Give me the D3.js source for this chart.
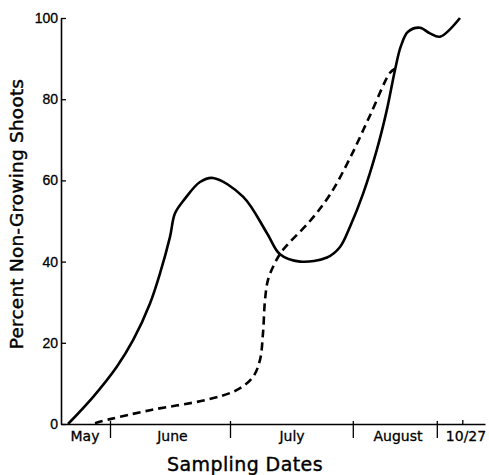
<!DOCTYPE html>
<html>
<head>
<meta charset="utf-8">
<script src="https://cdn.jsdelivr.net/npm/d3@7"></script>
<style>
  body { margin: 0; background: #fff; }
  svg { display: block; font-family: "DejaVu Sans", sans-serif; }
</style>
</head>
<body>
<svg width="489" height="475"></svg>
<script>
// x is days counted from June 1 (as laid out along the printed axis)
const solidDays = [-10.5, -4.2, 1.7, 5.8, 10, 12.5, 15, 16.25, 18.75, 22.5, 25.75, 33.25, 39.25, 42.5, 47.5, 54.25, 57.5, 60, 63.3, 66.7, 69.2, 71.25, 72.7, 74.5, 77.5, 80, 82.5, 87.5]
const solidPct  = [0, 6.7, 14.1, 20.7, 29.7, 37.1, 46.1, 51.9, 55.5, 59.6, 60.6, 56, 47, 41.8, 40, 41, 43.6, 48.6, 56.8, 67.5, 77.3, 87.2, 93, 96.6, 97.6, 96.2, 95.4, 100]

const dashedDays = [-3.75, 0, 10, 24.25, 31.75, 35.75, 37.5, 38.25, 38.75, 39.5, 41.25, 43.25, 50, 55, 60, 65, 70, 71.25]
const dashedPct  = [0.2, 1.2, 3.4, 6, 8.4, 11.6, 15.8, 22.4, 30.5, 35.5, 39.7, 42.9, 50, 56.5, 65.5, 76, 86.5, 87.5]

const monthLabels = ["May", "June", "July", "August", "10/27"]
const monthLabelDays = [-6.25, 15.6, 45.5, 72, 89]
const boundaryDays = [0, 30, 60.7, 81.7]
const lastTickDay = 88.2
const yTicks = [0, 20, 40, 60, 80, 100]

const svg = d3.select("svg")

const x = d3.scaleLinear().domain([-12.25, 93.75]).range([61, 485])
const y = d3.scaleLinear().domain([0, 100]).range([424, 18])

// y axis, ticks pointing into the plot
const yAxis = d3.axisLeft(y)
  .tickValues(yTicks)
  .tickSizeInner(-5)
  .tickSizeOuter(0)
  .tickPadding(3)

svg.append("g")
  .attr("transform", "translate(61,0)")
  .call(yAxis)
  .call(g => g.select(".domain").attr("stroke-width", 1.6))
  .call(g => g.selectAll(".tick line").attr("stroke-width", 1.3))
  .call(g => g.selectAll("text").attr("font-size", 14).attr("fill", "#000")
    .attr("stroke", "#000").attr("stroke-width", 0.3))

// x axis: month boundaries
const xAxis = d3.axisBottom(x)
  .tickValues(boundaryDays)
  .tickSizeInner(14)
  .tickSizeOuter(0)
  .tickFormat("")

svg.append("g")
  .attr("transform", "translate(0,424)")
  .call(xAxis)
  .call(g => g.select(".domain").attr("stroke-width", 1.6))
  .call(g => g.selectAll(".tick line").attr("y1", -3).attr("stroke-width", 1.3))

svg.append("line")
  .attr("x1", x(lastTickDay)).attr("x2", x(lastTickDay))
  .attr("y1", 420).attr("y2", 424)
  .attr("stroke", "#000").attr("stroke-width", 1.3)

svg.append("g").selectAll("text")
  .data(monthLabels)
  .join("text")
  .attr("x", (d, i) => x(monthLabelDays[i]))
  .attr("y", 441)
  .attr("text-anchor", "middle")
  .attr("font-size", 14)
  .attr("stroke", "#000").attr("stroke-width", 0.3)
  .text(d => d)

// titles
svg.append("text")
  .attr("x", 245)
  .attr("y", 471)
  .attr("text-anchor", "middle")
  .attr("font-size", 19)
  .attr("letter-spacing", 0.4)
  .attr("stroke", "#000").attr("stroke-width", 0.4)
  .text("Sampling Dates")

svg.append("text")
  .attr("transform", "translate(23,214) rotate(-90)")
  .attr("text-anchor", "middle")
  .attr("font-size", 18.5)
  .attr("letter-spacing", 0.2)
  .attr("stroke", "#000").attr("stroke-width", 0.4)
  .text("Percent Non-Growing Shoots")

// curves
const line = d3.line()
  .x(d => x(d[0]))
  .y(d => y(d[1]))
  .curve(d3.curveCatmullRom.alpha(0.5))

svg.append("path")
  .datum(d3.zip(solidDays, solidPct))
  .attr("d", line)
  .attr("fill", "none")
  .attr("stroke", "#000")
  .attr("stroke-width", 2.6)

svg.append("path")
  .datum(d3.zip(dashedDays, dashedPct))
  .attr("d", line)
  .attr("fill", "none")
  .attr("stroke", "#000")
  .attr("stroke-width", 2.6)
  .attr("stroke-dasharray", "8,5")
</script>
</body>
</html>
